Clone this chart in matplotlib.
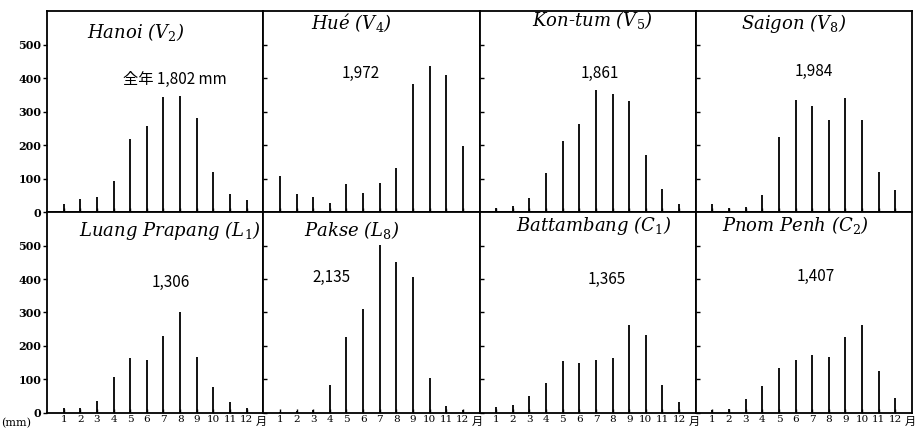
import numpy as np
import matplotlib
matplotlib.use("Agg")
import matplotlib.pyplot as plt
import matplotlib.transforms as mtransforms

plt.rcParams['font.family'] = ['DejaVu Sans', 'Noto Sans CJK JP']
plt.rcParams['mathtext.fontset'] = 'dejavuserif'

# stations, annual totals and monthly rainfall (mm)
months = list(range(1, 13))
stations = ["Hanoi", "Hué", "Kon-tum", "Saigon",
            "Luang Prapang", "Pakse", "Battambang", "Pnom Penh"]
codes = ["V$_2$", "V$_4$", "V$_5$", "V$_8$", "L$_1$", "L$_8$", "C$_1$", "C$_2$"]
totals = ["全年 1,802 mm", "1,972", "1,861", "1,984",
          "1,306", "2,135", "1,365", "1,407"]

hanoi = [25, 40, 45, 93, 217, 257, 342, 345, 282, 120, 54, 37]
hue = [108, 53, 45, 26, 85, 58, 87, 131, 383, 436, 408, 198]
kontum = [13, 18, 41, 116, 212, 263, 363, 352, 330, 171, 70, 23]
saigon = [23, 13, 14, 52, 224, 334, 317, 274, 340, 274, 120, 67]
luang = [14, 15, 35, 107, 163, 158, 230, 302, 167, 78, 32, 16]
pakse = [2, 7, 10, 85, 227, 311, 502, 452, 405, 105, 20, 9]
battambang = [19, 25, 50, 91, 156, 150, 158, 165, 263, 233, 85, 32]
pnompenh = [8, 12, 43, 80, 134, 159, 172, 166, 226, 262, 126, 46]
rain = [hanoi, hue, kontum, saigon, luang, pakse, battambang, pnompenh]

yticks = [0, 100, 200, 300, 400, 500]

# centres of the titles and of the totals in each panel (axes fraction)
title_xy = [(0.41, 0.895), (0.41, 0.945), (0.52, 0.955), (0.455, 0.94),
            (0.57, 0.91), (0.41, 0.91), (0.53, 0.935), (0.46, 0.935)]
total_xy = [(0.59, 0.66), (0.45, 0.69), (0.555, 0.69), (0.546, 0.70),
            (0.57, 0.65), (0.315, 0.675), (0.59, 0.665), (0.555, 0.68)]

fig, axes = plt.subplots(2, 4, figsize=(9.15, 4.32), dpi=100)
fig.subplots_adjust(left=0.0514, right=0.9967, top=0.9745, bottom=0.044,
                    wspace=0, hspace=0)

for i, ax in enumerate(axes.flat):
    ax.vlines(months, 0, rain[i], color='black', linewidth=1.3)
    ax.set_xlim(0, 13)
    ax.set_ylim(0, 600)
    ax.set_xticks(months)
    ax.set_yticks(yticks)
    ax.tick_params(direction='in', length=3, width=1, color='black')
    for s in ax.spines.values():
        s.set_linewidth(1.3)
    row, col = divmod(i, 4)
    if col == 0:
        ax.set_yticklabels([str(v) for v in yticks], fontsize=8,
                           fontweight='bold', family='DejaVu Serif')
        ax.tick_params(axis='y', direction='out', length=3, pad=1)
    else:
        ax.set_yticklabels([])
    if row == 1:
        ax.set_xticklabels([str(m) for m in months], fontsize=7.5,
                           family='DejaVu Serif')
        ax.tick_params(axis='x', pad=1.5)
        trans = mtransforms.blended_transform_factory(ax.transData, ax.transAxes)
        ax.text(12.55, -0.045, "月", transform=trans, fontsize=8,
                family=['Noto Sans CJK JP', 'DejaVu Sans'],
                ha='left', va='center')
    else:
        ax.set_xticklabels([])
    tx, ty = title_xy[i]
    ax.text(tx, ty, stations[i] + " (" + codes[i] + ")", transform=ax.transAxes,
            fontsize=13, family='DejaVu Serif', style='italic',
            ha='center', va='center')
    fx, fy = total_xy[i]
    ax.text(fx, fy, totals[i], transform=ax.transAxes, fontsize=11,
            family=['Noto Sans CJK JP', 'DejaVu Sans'], ha='center', va='center')

fig.text(0.001, 0.02, "(mm)", fontsize=8, family='DejaVu Serif',
         ha='left', va='center')

fig.savefig("out.png", dpi=100, facecolor='white')
